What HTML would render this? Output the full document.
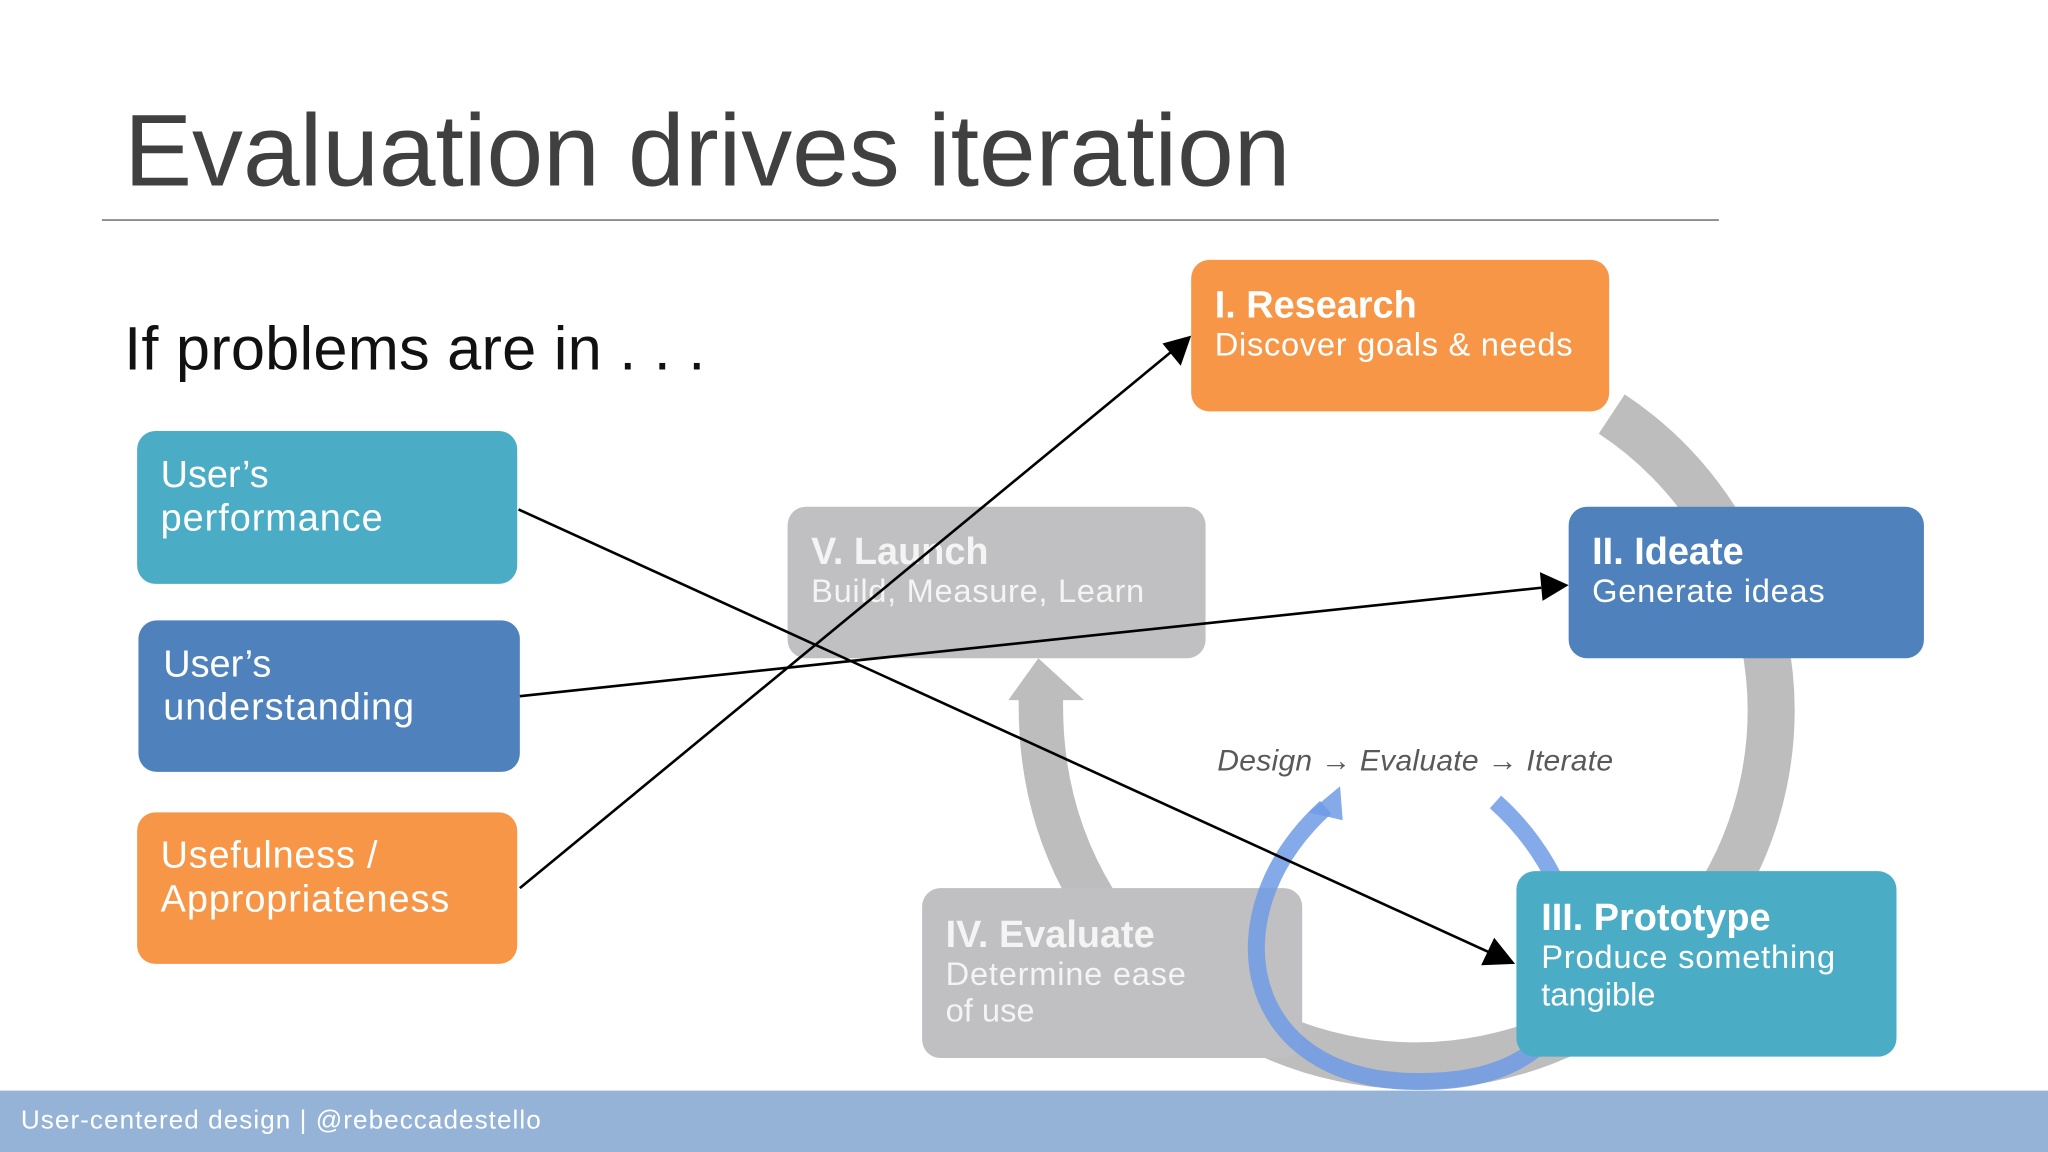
<!DOCTYPE html>
<html><head><meta charset="utf-8"><style>
html,body{margin:0;padding:0;background:#fff;}
svg{display:block;}
text{font-family:"Liberation Sans",sans-serif;}
</style></head><body>
<svg width="2048" height="1152" viewBox="0 0 1568 882" xmlns="http://www.w3.org/2000/svg">
<rect width="1568" height="882" fill="#fff"/>
<text x="95" y="142" font-size="78" fill="#404040">Evaluation drives iteration</text>
<line x1="78" y1="168.5" x2="1316" y2="168.5" stroke="#8c8c8c" stroke-width="1.5"/>
<text x="95" y="283" font-size="47" fill="#111" textLength="445">If problems are in . . .</text>

<!-- gray cycle ring -->
<path d="M 1234 317 A 272 272 0 0 1 934 771" fill="none" stroke="#bdbdbd" stroke-width="36"/>
<!-- up arrow evaluate -> launch -->
<path d="M 838 690 Q 795 620 797 533" fill="none" stroke="#bdbdbd" stroke-width="34"/>
<polygon points="772,536 830,536 795,504" fill="#bdbdbd"/>

<!-- boxes -->
<rect x="912" y="199" width="320" height="116" rx="14" fill="#f79646"/>
<text x="930" y="243" font-size="29" font-weight="bold" fill="#fff">I. Research</text>
<text x="930" y="272" font-size="25" fill="#fff" textLength="274">Discover goals &amp; needs</text>

<rect x="1201" y="388" width="272" height="116" rx="14" fill="#4f81bd"/>
<text x="1219" y="432" font-size="29" font-weight="bold" fill="#fff">II. Ideate</text>
<text x="1219" y="461" font-size="25" fill="#fff" textLength="178">Generate ideas</text>

<rect x="603" y="388" width="320" height="116" rx="14" fill="#c0bfc1"/>
<text x="621" y="432" font-size="29" font-weight="bold" fill="#f4f4f4">V. Launch</text>
<text x="621" y="461" font-size="25" fill="#f4f4f4" textLength="255">Build, Measure, Learn</text>

<rect x="706" y="680" width="291" height="130" rx="14" fill="#c0bfc1"/>
<text x="724" y="725" font-size="29" font-weight="bold" fill="#f4f4f4">IV. Evaluate</text>
<text x="724" y="754" font-size="25" fill="#f4f4f4" textLength="184">Determine ease</text>
<text x="724" y="782" font-size="25" fill="#f4f4f4">of use</text>

<!-- blue loop -->
<path d="M 1145 614 C 1230 690, 1240 830, 1085 828 C 950 828, 925 700, 1015 618" fill="none" stroke="#6f9be6" stroke-opacity="0.85" stroke-width="13"/>
<polygon points="1002,622 1028,628 1026,602" fill="#6f9be6" fill-opacity="0.85"/>

<rect x="1161" y="667" width="291" height="142" rx="14" fill="#4bacc6"/>
<text x="1180" y="712" font-size="29" font-weight="bold" fill="#fff">III. Prototype</text>
<text x="1180" y="741" font-size="25" fill="#fff" textLength="225">Produce something</text>
<text x="1180" y="770" font-size="25" fill="#fff">tangible</text>

<text x="932" y="590" font-size="23" font-style="italic" fill="#595959" textLength="303">Design → Evaluate → Iterate</text>

<!-- left boxes -->
<rect x="105" y="330" width="291" height="117" rx="14" fill="#4bacc6"/>
<text x="123" y="373" font-size="29" fill="#fff">User’s</text>
<text x="123" y="406" font-size="29" fill="#fff" textLength="170">performance</text>

<rect x="106" y="475" width="292" height="116" rx="14" fill="#4f81bd"/>
<text x="125" y="518" font-size="29" fill="#fff">User’s</text>
<text x="125" y="551" font-size="29" fill="#fff" textLength="192">understanding</text>

<rect x="105" y="622" width="291" height="116" rx="14" fill="#f79646"/>
<text x="123" y="664" font-size="29" fill="#fff" textLength="166">Usefulness /</text>
<text x="123" y="698" font-size="29" fill="#fff" textLength="221">Appropriateness</text>

<!-- connectors -->
<g stroke="#000" stroke-width="2" fill="none">
<line x1="397" y1="390" x2="1140" y2="729"/>
<line x1="398" y1="533" x2="1180" y2="450"/>
<line x1="398" y1="680" x2="896" y2="270"/>
</g>
<polygon points="1160,738 1134,739 1144,718" fill="#000"/>
<polygon points="1201,448 1179,438 1181,460" fill="#000"/>
<polygon points="912,257 890,263 904,280" fill="#000"/>

<!-- footer -->
<rect x="0" y="835" width="1568" height="47" fill="#95b3d7"/>
<text x="16" y="864" font-size="20" fill="#fff" textLength="398">User-centered design | @rebeccadestello</text>
</svg>
</body></html>
